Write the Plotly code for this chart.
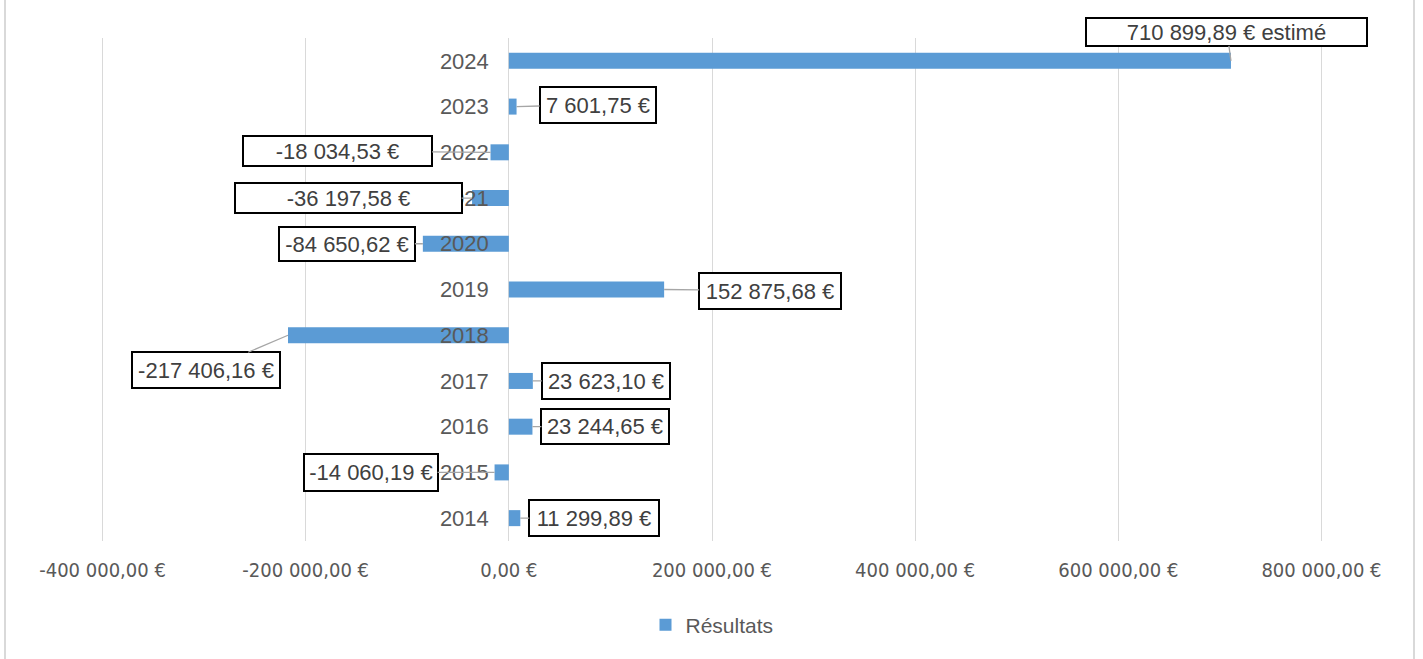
import plotly.graph_objects as go

years = ["2014", "2015", "2016", "2017", "2018", "2019", "2020", "2021", "2022", "2023", "2024"]
resultats = [11299.89, -14060.19, 23244.65, 23623.10, -217406.16, 152875.68,
             -84650.62, -36197.58, -18034.53, 7601.75, 710899.89]
label_suffix = ["", "", "", "", "", "", "", "", "", "", " estimé"]
x_tick_vals = [-400000, -200000, 0, 200000, 400000, 600000, 800000]
x_tick_text = ["-400 000,00 €", "-200 000,00 €", "0,00 €", "200 000,00 €",
               "400 000,00 €", "600 000,00 €", "800 000,00 €"]
series_name = "Résultats"

# label box placement (pixel offsets from bar end, box size)
label_style = {
    "2014": (74, 0, 132, 38),
    "2015": (-124, 0, 136, 39),
    "2016": (73, 0, 130, 37),
    "2017": (73, 0, 130, 38),
    "2018": (-82, 35, 150, 38),
    "2019": (106, 1, 144, 38),
    "2020": (-76, 0, 138, 36),
    "2021": (-124, 0, 229, 32),
    "2022": (-153, -1, 191, 32),
    "2023": (81, -2, 118, 38),
    "2024": (-4, -29, 283, 28),
}

def fr(v):
    return f"{v:,.2f}".replace(",", " ").replace(".", ",") + " €"

BLUE = "#5B9BD5"
GRID = "#D9D9D9"
TXT = "#595959"
LBL = "#404040"
LABEL_FONT = "Liberation Sans, Arial, sans-serif"
TICK_FONT = "Liberation Sans Narrow, DejaVu Sans Condensed, sans-serif"

fig = go.Figure()
fig.add_trace(go.Bar(
    x=resultats, y=years, orientation="h", name=series_name,
    marker=dict(color=BLUE, line=dict(width=0)), width=0.35,
    showlegend=True,
))

annotations = []
for i, (y, v, suf) in enumerate(zip(years, resultats, label_suffix)):
    ax, ay, w, h = label_style[y]
    annotations.append(dict(
        x=v, y=i, xref="x", yref="y",
        text=fr(v) + suf,
        showarrow=True, arrowhead=0, arrowwidth=1.3, arrowcolor="#A6A6A6",
        ax=ax, ay=ay,
        bordercolor="#000000", borderwidth=2, borderpad=0,
        bgcolor="#FFFFFF", width=w - 4, height=max(h - 4, 26),
        font=dict(family=LABEL_FONT, size=22, color=LBL),
        align="center", valign="middle",
    ))

L, R, T, B = 101, 100, 38, 118
W, H = 1423, 659
pw = W - L - R

def xpaper(px):
    return (px - L) / pw

shapes = [
    dict(type="line", xref="paper", yref="paper", x0=xpaper(5), x1=xpaper(5), y0=-1, y1=2,
         line=dict(color=GRID, width=2)),
    dict(type="line", xref="paper", yref="paper", x0=xpaper(1414), x1=xpaper(1414), y0=-1, y1=2,
         line=dict(color=GRID, width=2)),
]

fig.update_layout(
    width=W, height=H,
    margin=dict(l=L, r=R, t=T, b=B),
    paper_bgcolor="white", plot_bgcolor="white",
    annotations=annotations, shapes=shapes,
    legend=dict(orientation="h", x=0.5, xanchor="center", y=-0.167, yanchor="middle",
                font=dict(family=LABEL_FONT, size=21, color=TXT),
                itemwidth=30),
    xaxis=dict(
        range=[-401500, 801500], tickvals=x_tick_vals, ticktext=x_tick_text,
        showgrid=True, gridcolor=GRID, gridwidth=1,
        zeroline=True, zerolinecolor=GRID, zerolinewidth=1,
        showline=False, ticks="", ticklabelstandoff=15,
        tickfont=dict(family=TICK_FONT, size=20, color=TXT),
        fixedrange=True,
    ),
    yaxis=dict(
        type="category", categoryorder="array", categoryarray=years,
        anchor="free", position=(0 - (-401500)) / 1203000,
        showgrid=False, zeroline=False, showline=False, ticks="",
        ticklabelstandoff=20,
        tickfont=dict(family=LABEL_FONT, size=22, color=TXT),
        range=[-0.5, 10.5],
    ),
    font=dict(family=LABEL_FONT),
)

fig.write_html("out.html")
